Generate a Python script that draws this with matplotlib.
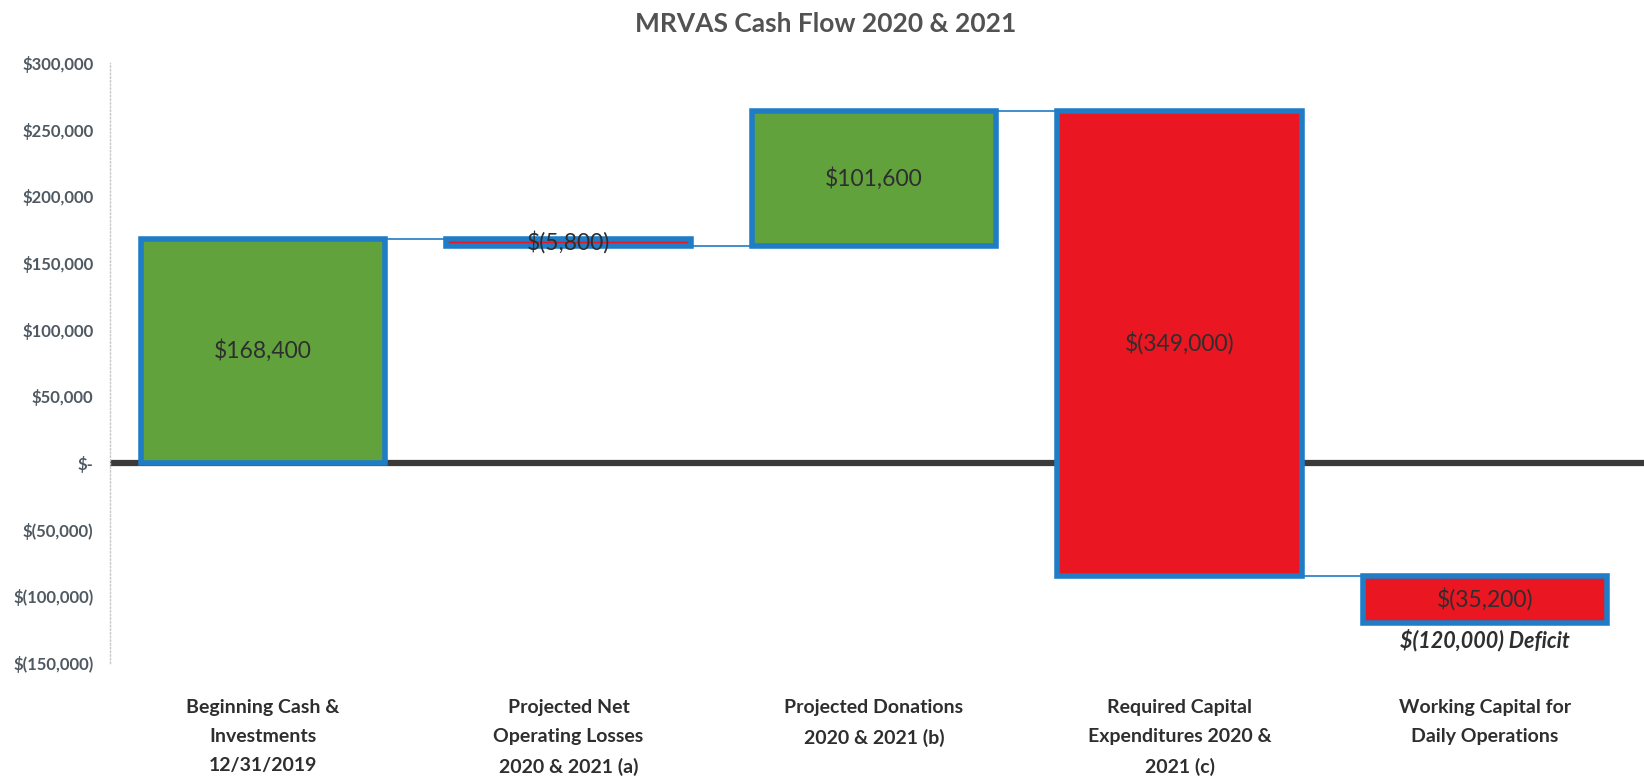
import matplotlib.pyplot as plt
from matplotlib.ticker import FuncFormatter

categories = [
    "Beginning Cash &\nInvestments\n12/31/2019",
    "Projected Net\nOperating Losses\n2020 & 2021 (a)",
    "Projected Donations\n2020 & 2021 (b)",
    "Required Capital\nExpenditures 2020 &\n2021 (c)",
    "Working Capital for\nDaily Operations",
]
changes = [168400, -5800, 101600, -349000, -35200]
deficit_note = "$(120,000) Deficit"

GREEN = "#62a23c"
RED = "#ea1621"
EDGE = "#1f7cc6"
TXT = "#2e2e2e"
AXTXT = "#4f5962"

plt.rcParams['font.family'] = ['Lato', 'DejaVu Sans']


def money(v):
    if v == 0:
        return "$-"
    if v < 0:
        return "$({:,.0f})".format(-v)
    return "${:,.0f}".format(v)


# running totals for the waterfall
starts = []
ends = []
total = 0
for c in changes:
    starts.append(total)
    total += c
    ends.append(total)

fig = plt.figure(figsize=(16.44, 7.8), dpi=100)
ax = fig.add_axes([0.067, 0.15, 0.933, 0.769])

x = list(range(len(categories)))
bottoms = [min(s, e) for s, e in zip(starts, ends)]
heights = [abs(c) for c in changes]
colors = [GREEN if c > 0 else RED for c in changes]

ax.axhline(0, color="#3a3a3a", lw=4.5, zorder=1)
ax.bar(x, heights, bottom=bottoms, width=0.8, color=colors,
       edgecolor=EDGE, linewidth=4, zorder=3)

# connectors
for i in range(len(changes) - 1):
    ax.plot([i + 0.4, i + 1 - 0.4], [ends[i], ends[i]], color=EDGE, lw=1.2, zorder=2)

for i, c in enumerate(changes):
    ax.text(i, (starts[i] + ends[i]) / 2, money(c), ha="center", va="center",
            fontsize=16.5, color=TXT, zorder=4)

ax.text(len(changes) - 1, -133000, deficit_note, ha="center", va="center",
        fontsize=15.5, fontweight="bold", style="italic", color=TXT)

ax.set_xlim(-0.5, 4.52)
ax.set_ylim(-150000, 300000)
ax.set_yticks(range(-150000, 300001, 50000))
ax.yaxis.set_major_formatter(FuncFormatter(lambda v, p: money(v)))
ax.set_xticks(x)
ax.set_xticklabels(categories, fontsize=14, fontweight="bold", color=TXT,
                   linespacing=1.85)
ax.tick_params(axis="x", length=0, pad=26)
ax.tick_params(axis="y", length=0, pad=12, labelsize=12, labelcolor=AXTXT)
for lab in ax.get_yticklabels():
    lab.set_fontweight("bold")

for s in ["top", "right", "bottom"]:
    ax.spines[s].set_visible(False)
ax.spines["left"].set_color("#c8c8c8")
ax.spines["left"].set_linestyle(":")
ax.spines["left"].set_linewidth(1)

fig.suptitle("MRVAS Cash Flow 2020 & 2021", x=0.502, y=0.985, fontsize=19,
             fontweight="bold", color="#525252")

fig.savefig("out.png", dpi=100)
